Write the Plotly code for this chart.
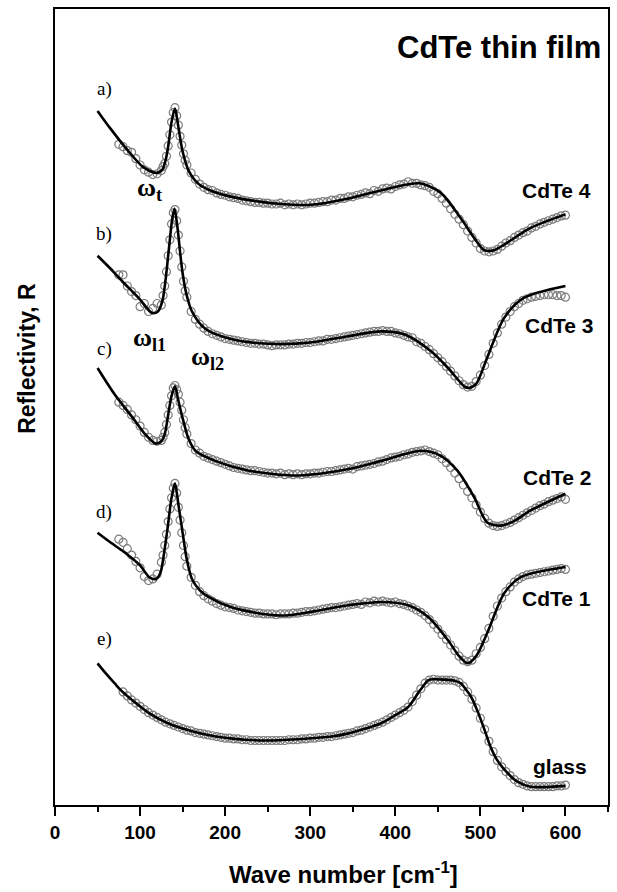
import plotly.graph_objects as go

# ---- measured reflectivity (vertically offset, arbitrary units) ----
meas_x = list(range(75, 126, 5)) + list(range(127, 156, 2)) + list(range(160, 601, 5))

cdte4_meas = [8.30, 8.27, 8.22, 8.20, 8.12, 8.04, 7.98, 7.95, 7.92, 7.93, 7.97,
              8.02, 8.06, 8.15, 8.28, 8.42, 8.58, 8.70, 8.76, 8.66, 8.54, 8.40, 8.29, 8.18, 8.10, 8.04,
              7.94, 7.86, 7.80, 7.76, 7.73, 7.72, 7.69, 7.67, 7.66, 7.64,
              7.63, 7.62, 7.60, 7.59, 7.58, 7.57, 7.57, 7.56, 7.56, 7.55,
              7.55, 7.56, 7.54, 7.55, 7.54, 7.55, 7.54, 7.55, 7.56, 7.56,
              7.57, 7.58, 7.58, 7.60, 7.60, 7.62, 7.62, 7.64, 7.64, 7.66,
              7.67, 7.69, 7.68, 7.72, 7.71, 7.74, 7.75, 7.74, 7.77, 7.79,
              7.80, 7.83, 7.81, 7.81, 7.79, 7.78, 7.76, 7.71, 7.68, 7.62,
              7.56, 7.49, 7.42, 7.36, 7.29, 7.21, 7.13, 7.06, 6.99, 6.96,
              6.95, 6.96, 6.98, 7.02, 7.06, 7.09, 7.13, 7.16, 7.19, 7.21,
              7.25, 7.27, 7.30, 7.32, 7.34, 7.36, 7.38, 7.40, 7.41]

cdte3_meas = [6.66, 6.66, 6.52, 6.45, 6.40, 6.26, 6.30, 6.20, 6.24, 6.30, 6.28,
              6.40, 6.52, 6.70, 6.90, 7.10, 7.30, 7.44, 7.48, 7.34, 7.16, 6.96, 6.76, 6.58, 6.46, 6.38,
              6.20, 6.10, 6.04, 5.99, 5.95, 5.92, 5.90, 5.88, 5.86, 5.85,
              5.84, 5.83, 5.82, 5.81, 5.80, 5.80, 5.79, 5.79, 5.78, 5.77,
              5.78, 5.78, 5.78, 5.79, 5.79, 5.80, 5.80, 5.81, 5.81, 5.82,
              5.83, 5.83, 5.85, 5.85, 5.86, 5.87, 5.88, 5.89, 5.90, 5.91,
              5.92, 5.93, 5.94, 5.95, 5.95, 5.96, 5.95, 5.95, 5.93, 5.92,
              5.90, 5.88, 5.87, 5.82, 5.80, 5.76, 5.72, 5.67, 5.62, 5.57,
              5.51, 5.45, 5.39, 5.33, 5.28, 5.25, 5.26, 5.32, 5.40, 5.52,
              5.66, 5.80, 5.93, 6.04, 6.13, 6.20, 6.26, 6.30, 6.34, 6.36,
              6.38, 6.39, 6.40, 6.41, 6.41, 6.41, 6.40, 6.40, 6.38]

cdte2_meas = [5.06, 5.02, 4.97, 4.90, 4.84, 4.76, 4.68, 4.62, 4.58, 4.57, 4.58,
              4.62, 4.68, 4.78, 4.90, 5.02, 5.14, 5.24, 5.27, 5.22, 5.16, 5.06, 4.96, 4.84, 4.74, 4.66,
              4.54, 4.46, 4.42, 4.38, 4.36, 4.34, 4.32, 4.30, 4.28, 4.26,
              4.24, 4.23, 4.22, 4.21, 4.20, 4.20, 4.19, 4.18, 4.17, 4.17,
              4.16, 4.17, 4.15, 4.16, 4.15, 4.16, 4.15, 4.16, 4.16, 4.17,
              4.17, 4.18, 4.19, 4.19, 4.20, 4.21, 4.22, 4.23, 4.22, 4.25,
              4.26, 4.27, 4.28, 4.29, 4.31, 4.32, 4.34, 4.36, 4.37, 4.38,
              4.40, 4.41, 4.43, 4.44, 4.45, 4.46, 4.44, 4.42, 4.40, 4.35,
              4.30, 4.24, 4.17, 4.10, 4.02, 3.94, 3.86, 3.77, 3.68, 3.60,
              3.54, 3.51, 3.50, 3.51, 3.53, 3.55, 3.58, 3.61, 3.64, 3.67,
              3.70, 3.73, 3.76, 3.78, 3.81, 3.83, 3.85, 3.87, 3.84]

cdte1_meas = [3.34, 3.30, 3.22, 3.14, 3.06, 2.98, 2.87, 2.82, 2.84, 2.90, 3.05,
              3.14, 3.26, 3.40, 3.56, 3.72, 3.86, 3.98, 4.04, 3.92, 3.74, 3.58, 3.42, 3.26, 3.12, 3.00,
              2.86, 2.76, 2.68, 2.63, 2.59, 2.56, 2.53, 2.51, 2.49, 2.48,
              2.47, 2.45, 2.44, 2.43, 2.42, 2.41, 2.41, 2.40, 2.40, 2.40,
              2.39, 2.40, 2.40, 2.40, 2.41, 2.41, 2.42, 2.43, 2.43, 2.44,
              2.45, 2.46, 2.47, 2.48, 2.48, 2.49, 2.50, 2.51, 2.52, 2.53,
              2.52, 2.55, 2.54, 2.56, 2.55, 2.56, 2.55, 2.54, 2.55, 2.53,
              2.52, 2.50, 2.48, 2.45, 2.42, 2.38, 2.33, 2.27, 2.21, 2.14,
              2.08, 2.01, 1.94, 1.87, 1.82, 1.80, 1.82, 1.90, 1.98, 2.09,
              2.22, 2.37, 2.50, 2.60, 2.68, 2.74, 2.80, 2.84, 2.87, 2.89,
              2.90, 2.91, 2.92, 2.93, 2.94, 2.95, 2.96, 2.97, 2.96]

glass_x = list(range(80, 601, 5))
glass_meas = [1.42, 1.37, 1.32, 1.28, 1.24, 1.20, 1.16, 1.13, 1.10, 1.07,
              1.04, 1.02, 1.00, 0.98, 0.96, 0.94, 0.93, 0.91, 0.90, 0.89,
              0.88, 0.87, 0.86, 0.85, 0.84, 0.84, 0.83, 0.83, 0.82, 0.82,
              0.81, 0.81, 0.81, 0.81, 0.81, 0.81, 0.81, 0.81, 0.81, 0.82,
              0.82, 0.82, 0.83, 0.83, 0.84, 0.84, 0.85, 0.85, 0.86, 0.86,
              0.87, 0.88, 0.89, 0.90, 0.91, 0.93, 0.94, 0.96, 0.98, 1.00,
              1.02, 1.04, 1.07, 1.10, 1.13, 1.16, 1.19, 1.23, 1.30, 1.38,
              1.46, 1.53, 1.57, 1.58, 1.57, 1.57, 1.57, 1.57, 1.56, 1.54,
              1.49, 1.42, 1.33, 1.22, 1.09, 0.95, 0.80, 0.67, 0.56, 0.48,
              0.42, 0.37, 0.32, 0.28, 0.26, 0.24, 0.23, 0.23, 0.23, 0.23,
              0.23, 0.23, 0.24, 0.24, 0.25]

# ---- model fits (knots of the fitted spectra) ----
cdte4_fit_x = [50, 65, 83.5, 103, 118.6, 126, 130, 133, 137, 141, 145, 150, 157.5, 169, 185,
               208, 240, 266, 300, 345, 390, 428.6, 453.5, 477, 493, 504.5, 516, 528, 559, 600]
cdte4_fit_y = [8.72, 8.50, 8.25, 8.02, 7.94, 7.98, 8.10, 8.27, 8.58, 8.75, 8.52, 8.21, 7.96, 7.80, 7.71,
               7.64, 7.58, 7.55, 7.54, 7.62, 7.74, 7.81, 7.69, 7.37, 7.12, 6.97, 6.97, 7.04, 7.25, 7.42]

cdte3_fit_x = [50, 65, 79, 100, 114, 121, 126, 130, 134, 138, 140.5, 144, 147, 150, 154, 161, 177,
               208, 240, 266, 300, 345, 383.5, 411, 442, 462, 481, 487, 495, 508, 528, 551, 600]
cdte3_fit_y = [6.90, 6.74, 6.58, 6.35, 6.18, 6.20, 6.32, 6.60, 7.00, 7.38, 7.49, 7.25, 6.95, 6.68, 6.44, 6.20, 5.98,
               5.85, 5.80, 5.79, 5.81, 5.89, 5.95, 5.91, 5.70, 5.49, 5.26, 5.24, 5.29, 5.62, 6.12, 6.37, 6.52]

cdte2_fit_x = [50, 70, 91, 105, 118.6, 125, 129, 133, 137, 141, 145, 150, 157, 165, 189,
               228, 286, 345, 383, 430, 453, 473, 493, 508, 524, 540, 559, 600]
cdte2_fit_y = [5.49, 5.16, 4.87, 4.67, 4.54, 4.57, 4.66, 4.90, 5.14, 5.26, 5.08, 4.86, 4.60, 4.45, 4.32,
               4.20, 4.14, 4.22, 4.32, 4.45, 4.39, 4.20, 3.86, 3.55, 3.51, 3.57, 3.70, 3.91]

cdte1_fit_x = [50, 65, 83.5, 100, 111, 119, 124, 128, 132, 137, 141, 145, 150, 155, 161, 170, 181,
               208, 266, 345, 383, 415, 439, 462, 475, 485, 495, 508, 528, 547, 600]
cdte1_fit_y = [3.42, 3.30, 3.16, 3.01, 2.86, 2.84, 2.92, 3.15, 3.45, 3.86, 4.04, 3.78, 3.42, 3.08, 2.84, 2.70, 2.61,
               2.48, 2.38, 2.51, 2.55, 2.51, 2.36, 2.07, 1.87, 1.78, 1.87, 2.16, 2.66, 2.86, 2.99]

glass_fit_x = [50, 60, 70, 77.6, 95, 111, 130, 150, 189, 247, 290, 325, 345, 365, 384, 400, 415,
               429, 439, 446, 469.5, 477, 481, 489, 497, 505, 512, 520, 532, 544, 559, 600]
glass_fit_y = [1.78, 1.65, 1.53, 1.44, 1.28, 1.15, 1.04, 0.96, 0.86, 0.81, 0.83, 0.86, 0.90, 0.96, 1.03, 1.13, 1.23,
               1.44, 1.57, 1.58, 1.56, 1.53, 1.48, 1.36, 1.17, 0.94, 0.73, 0.56, 0.40, 0.29, 0.23, 0.24]

assert len(meas_x) == len(cdte4_meas) == len(cdte3_meas) == len(cdte2_meas) == len(cdte1_meas)
assert len(glass_x) == len(glass_meas)

sample_names = ["CdTe 4", "CdTe 3", "CdTe 2", "CdTe 1", "glass"]
panel_tags = ["a)", "b)", "c)", "d)", "e)"]
x_ticks = [0, 100, 200, 300, 400, 500, 600]

measured = [(meas_x, cdte4_meas), (meas_x, cdte3_meas), (meas_x, cdte2_meas),
            (meas_x, cdte1_meas), (glass_x, glass_meas)]
fitted = [(cdte4_fit_x, cdte4_fit_y), (cdte3_fit_x, cdte3_fit_y), (cdte2_fit_x, cdte2_fit_y),
          (cdte1_fit_x, cdte1_fit_y), (glass_fit_x, glass_fit_y)]

fig = go.Figure()

for (mx, my), name in zip(measured, sample_names):
    fig.add_trace(go.Scatter(
        x=mx, y=my, mode="markers", name=name + " exp.",
        marker=dict(symbol="circle-open", size=8, color="#7c7c7c", line=dict(width=1.2)),
        showlegend=False))

for (fx, fy), name in zip(fitted, sample_names):
    fig.add_trace(go.Scatter(
        x=fx, y=fy, mode="lines", name=name + " fit",
        line=dict(color="black", width=2.6, shape="spline", smoothing=0.8),
        showlegend=False))

# sample names on the right
name_pos = [(590, 7.72), (592, 6.02), (590, 4.12), (590, 2.59), (594, 0.49)]
for name, (nx, ny) in zip(sample_names, name_pos):
    fig.add_annotation(x=nx, y=ny, xref="x", yref="y", text=name, showarrow=False,
                       font=dict(family="Liberation Sans", size=21, color="black", weight="bold"),
                       xanchor="center", yanchor="middle")

# panel letters
tag_y = [9.0, 7.17, 5.73, 3.68, 2.09]
for tag, ty in zip(panel_tags, tag_y):
    fig.add_annotation(x=58, y=ty, xref="x", yref="y", text=tag, showarrow=False,
                       font=dict(family="Liberation Serif", size=19, color="black"),
                       xanchor="center", yanchor="middle")

# phonon mode labels
modes = [("ω<sub>t</sub>", 111, 7.74), ("ω<sub>l1</sub>", 111, 5.85), ("ω<sub>l2</sub>", 179, 5.61)]
for txt, mx_, my_ in modes:
    fig.add_annotation(x=mx_, y=my_, xref="x", yref="y", text="<b>" + txt + "</b>", showarrow=False,
                       font=dict(family="Liberation Serif", size=26, color="black"),
                       xanchor="center", yanchor="middle")

fig.add_annotation(x=0.991, y=0.952, xref="paper", yref="paper", text="CdTe thin film",
                   showarrow=False, xanchor="right", yanchor="middle",
                   font=dict(family="Liberation Sans", size=31, color="black", weight="bold"))

fig.add_annotation(x=-0.05, y=0.561, xref="paper", yref="paper", text="Reflectivity, R",
                   showarrow=False, textangle=-90, xanchor="center", yanchor="middle",
                   font=dict(family="Liberation Sans", size=23, color="black", weight="bold"))

fig.add_annotation(x=0.5225, y=-0.085, xref="paper", yref="paper",
                   text="Wave number [cm<sup>-1</sup>]",
                   showarrow=False, xanchor="center", yanchor="middle",
                   font=dict(family="Liberation Sans", size=24, color="black", weight="bold"))

fig.update_xaxes(range=[0, 650], tickvals=x_ticks, ticks="outside", ticklen=9, tickwidth=2,
                 tickcolor="black", showline=True, linecolor="black", linewidth=2, mirror=True,
                 showgrid=False, zeroline=False,
                 tickfont=dict(family="Liberation Sans", size=19, color="black", weight="bold"),
                 minor=dict(dtick=50, tick0=0, ticks="outside", ticklen=5, tickwidth=2, tickcolor="black"))
fig.update_yaxes(range=[0, 10], showticklabels=False, ticks="", showline=True, linecolor="black",
                 linewidth=2, mirror=True, showgrid=False, zeroline=False)

fig.update_layout(width=617, height=892, margin=dict(l=55, r=7, t=7, b=87),
                  plot_bgcolor="white", paper_bgcolor="white")

fig.write_html("out.html")
